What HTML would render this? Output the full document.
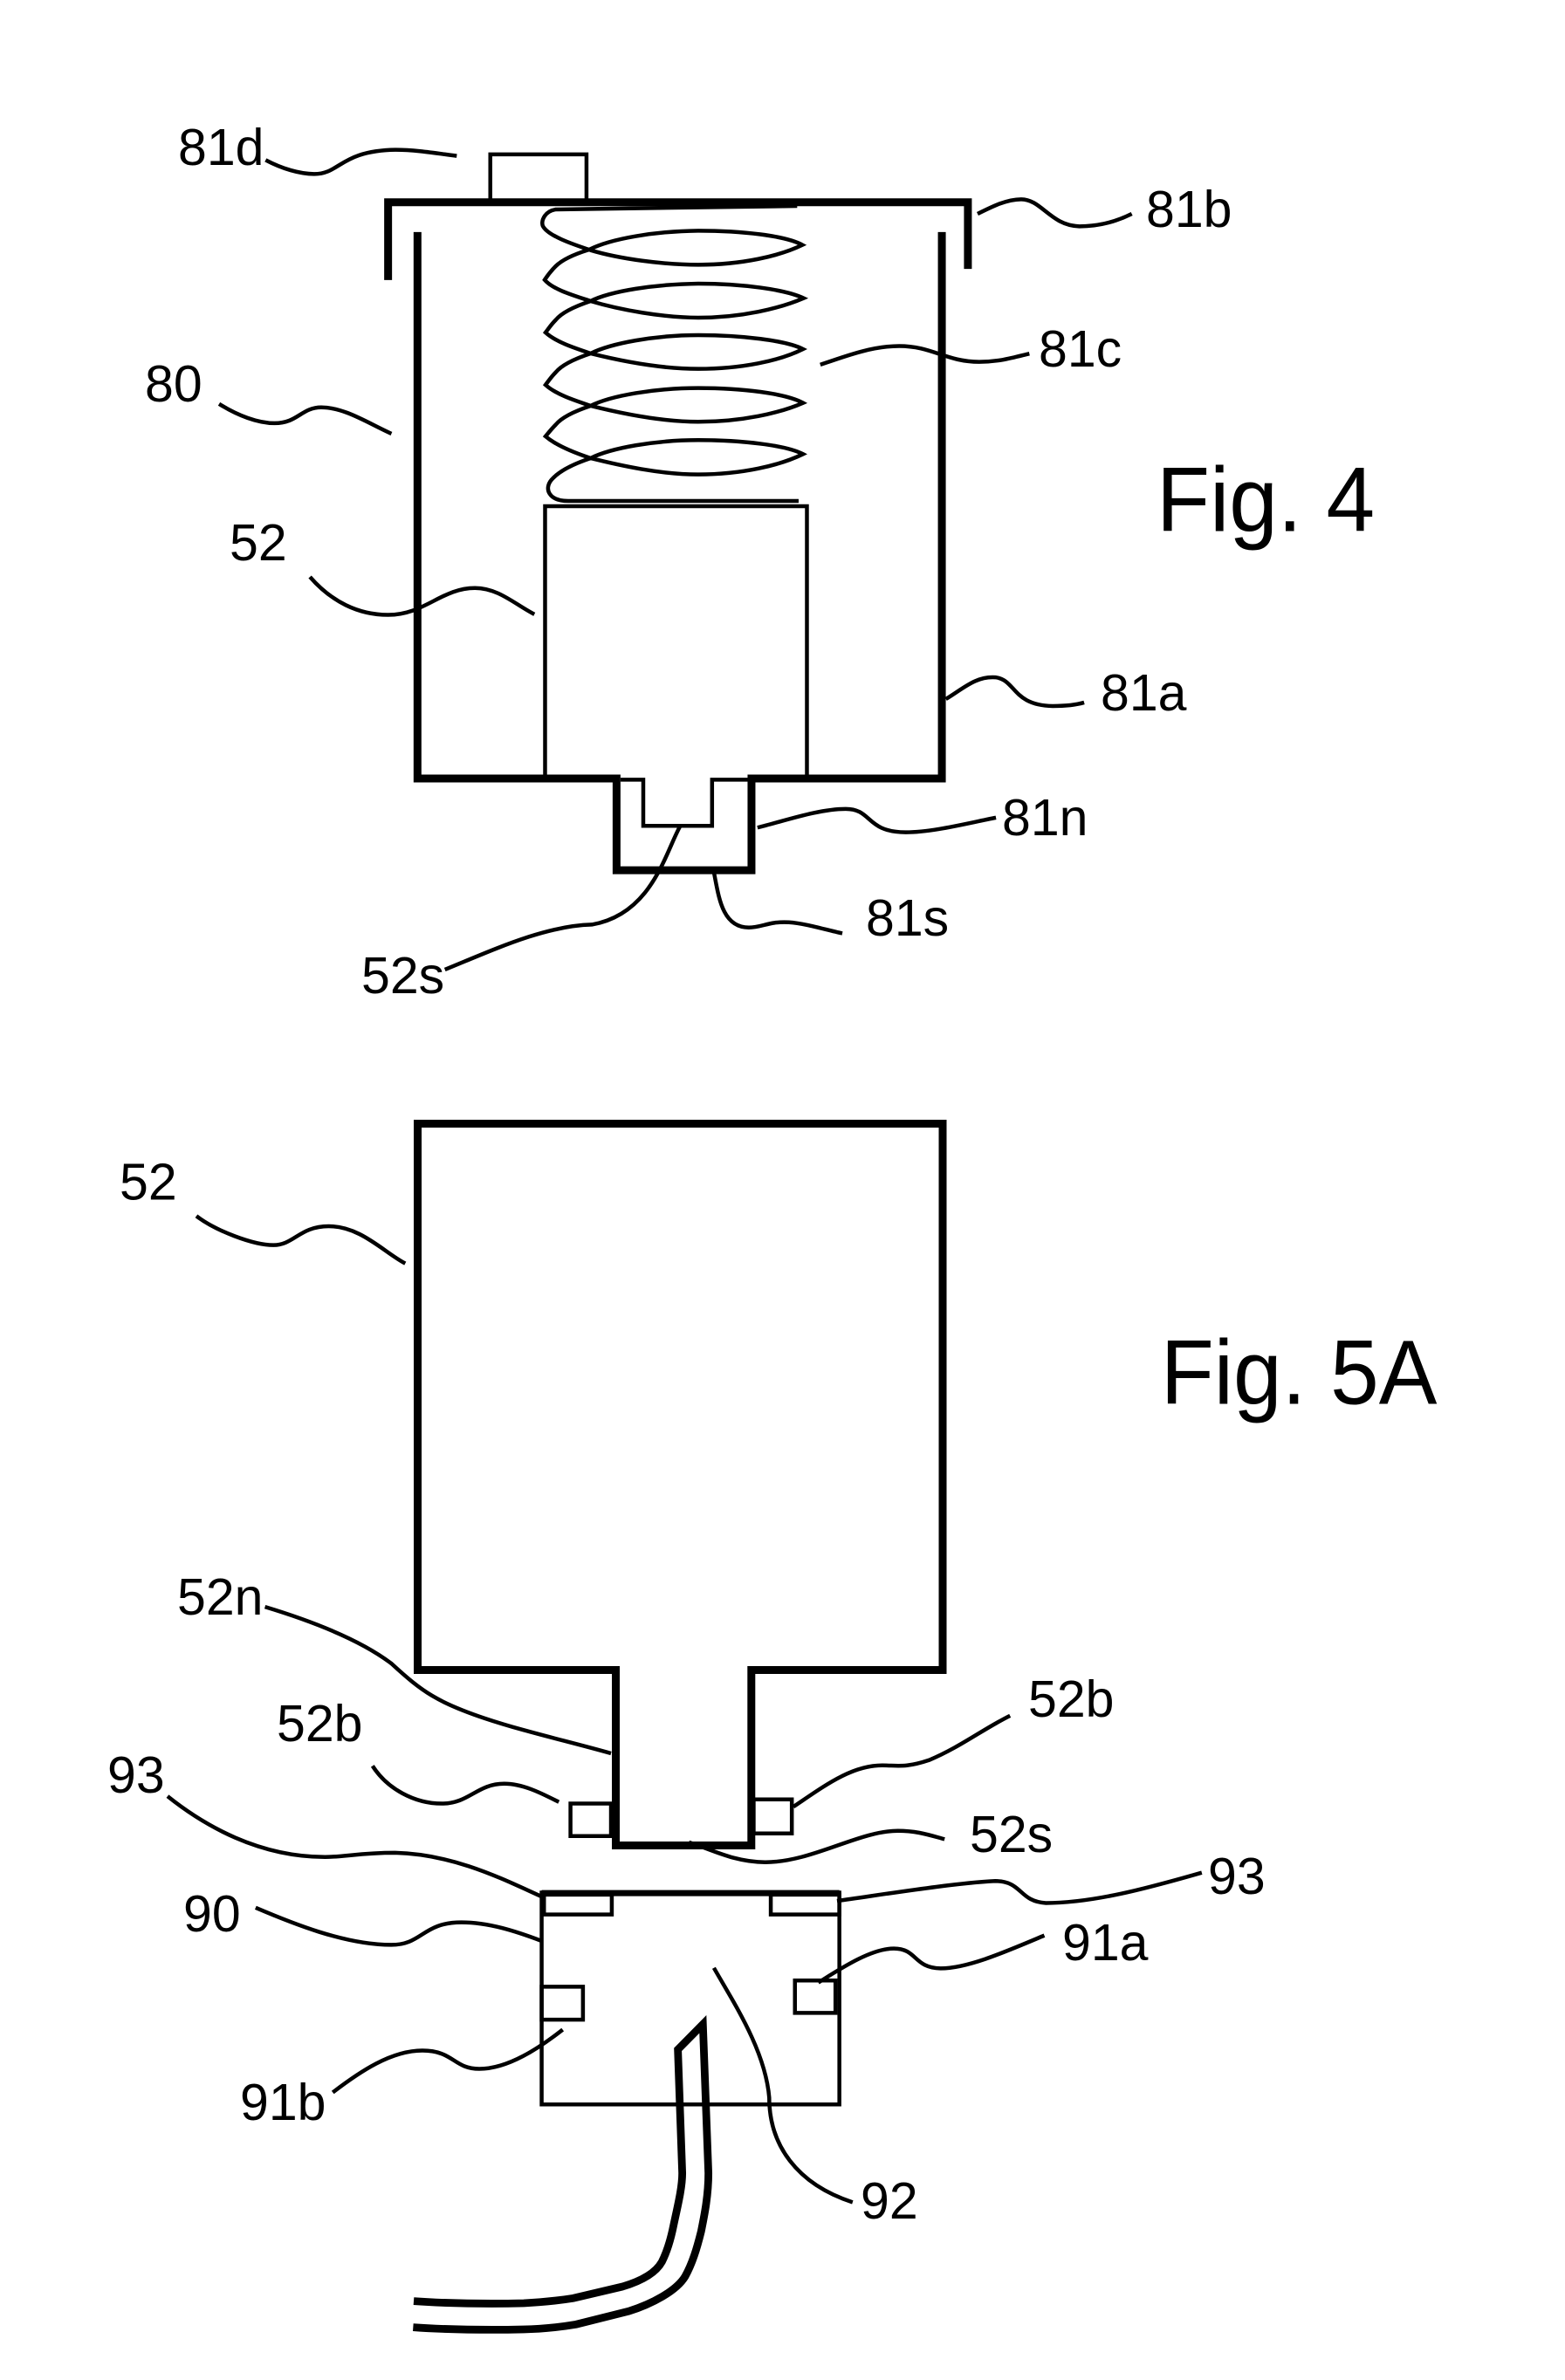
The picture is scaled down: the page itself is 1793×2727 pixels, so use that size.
<!DOCTYPE html>
<html>
<head>
<meta charset="utf-8">
<style>
html,body{margin:0;padding:0;background:#fff;}
svg{display:block;position:absolute;left:0;top:0;}
path,rect{vector-effect:non-scaling-stroke;fill:none;stroke:#000;stroke-linejoin:miter;}
text{font-family:"Liberation Sans",sans-serif;fill:#000;font-size:59px;}
.l{stroke-width:4.5;}
.t{stroke-width:4.5;}
.h{stroke-width:9;}
</style>
</head>
<body>
<svg width="1793" height="2727" viewBox="0 0 1793 2727" xmlns="http://www.w3.org/2000/svg">
<rect x="0" y="0" width="1793" height="2727" style="fill:#fff;stroke:none"/>

<!-- Fig 4 -->
<g transform="translate(150,130) scale(.7653,.6696)">
  <path class="h" d="M385,285 V152 H1253 V266"/>
  <path class="h" d="M429,203 V1138 H727 V1295 H929 V1138 H1214 V203"/>
  <path class="t" d="M538,148 V70 H682 V148"/>
  <path class="t" d="M620,1138 V672 H1012 V1138"/>
  <path class="t" d="M733,1140 H767 V1219 H870 V1140 H925"/>
  <path class="l" d="M1032,430 C1070,415 1110,398 1150,398 C1200,398 1220,425 1270,425 C1300,425 1320,418 1345,411"/>
  <path class="l" d="M132,497 C160,517 190,530 215,530 C250,530 255,503 285,503 C320,503 355,530 390,548"/>
  <path class="l" d="M268,793 C300,835 340,858 385,858 C440,858 465,812 515,812 C550,812 575,840 604,857"/>
  <path class="l" d="M1220,1002 C1245,985 1265,962 1295,965 C1325,970 1320,1013 1380,1014 C1400,1014 1415,1012 1427,1008"/>
  <path class="l" d="M938,1222 C980,1210 1030,1190 1070,1190 C1110,1190 1100,1230 1160,1230 C1200,1230 1250,1215 1295,1205"/>
  <path class="l" d="M873,1300 C880,1340 885,1393 925,1393 C945,1393 955,1382 985,1384 C1010,1386 1040,1397 1065,1403"/>
  <path class="l" d="M822,1220 C800,1265 780,1370 690,1388 C620,1390 545,1430 470,1465"/>
</g>
<!-- Spring -->
<g transform="translate(600,210) scale(.3333)">
  <path class="t" d="M940,78 L110,90 C75,95 60,125 65,145 C80,180 170,210 230,230 C330,260 480,280 600,280 C750,280 880,250 958,212 C900,180 750,163 600,163 C450,165 300,190 225,228 C170,245 130,265 110,285 C95,300 80,320 72,332 C100,365 170,385 230,405 C330,435 480,462 600,462 C750,462 880,430 962,395 C900,365 750,345 600,345 C450,347 300,370 230,405 C170,425 130,445 110,470 C95,485 85,500 75,513 C110,545 170,565 230,585 C330,610 470,638 600,638 C750,638 880,610 960,570 C900,540 750,522 600,522 C450,522 300,550 230,585 C170,605 130,625 110,650 C95,665 85,680 75,693 C110,725 170,745 230,765 C330,790 470,820 600,820 C750,820 880,790 960,755 C900,722 750,704 600,704 C450,704 300,730 230,765 C170,785 130,805 110,830 C95,845 85,858 75,870 C110,900 170,925 230,945 C330,970 470,1001 600,1001 C750,1001 880,970 960,931 C900,900 750,883 600,883 C450,883 300,910 230,945 C170,965 120,990 95,1020 C70,1050 85,1092 153,1092 L945,1092"/>
</g>
<g transform="translate(200,130) scale(.3333)">
  <path class="l" d="M313,160 C370,190 430,208 480,208 C570,208 570,128 760,125 C830,125 900,137 970,146"/>
</g>
<g transform="translate(1120,200) scale(.3333)">
  <path class="l" d="M0,135 C50,110 100,85 150,85 C220,85 250,175 350,178 C420,178 480,160 530,135"/>
</g>

<text x="204" y="189">81d</text>
<text x="1313" y="260">81b</text>
<text x="1190" y="420">81c</text>
<text x="166" y="460">80</text>
<text x="263" y="642">52</text>
<text x="1261" y="814">81a</text>
<text x="1148" y="957">81n</text>
<text x="992" y="1072">81s</text>
<text x="414" y="1138">52s</text>
<text transform="translate(1325,608.7) scale(1,1.047)" x="0" y="0" style="font-size:100px">Fig. 4</text>

<!-- Fig 5A -->
<path class="h" d="M478.5,1287.5 H1080 V1913.5 H860.8 V2114.5 H705.5 V1913.5 H478.5 Z"/>
<g transform="translate(130,1260) scale(.3333)">
  <path class="l" d="M285,400 C350,450 480,500 550,500 C620,500 640,435 740,435 C850,435 930,525 1003,563"/>
</g>
<g transform="translate(460,2300) scale(.3333)">
  <path style="stroke-width:8.8" d="M42,1010 C150,1018 300,1020 420,1017 C480,1014 540,1008 590,1000 L760,960 C810,945 870,920 895,875 C910,845 925,800 935,750 C950,680 965,620 965,570 L950,145 L1036,58 L1055,570 C1055,650 1040,720 1030,770 C1015,830 1000,880 975,925 C945,975 860,1020 780,1045 L600,1090 C540,1100 480,1106 420,1107 C300,1110 150,1108 40,1100"/>
</g>
<g transform="translate(100,1780) scale(.8929,.5995)">
  <rect class="t" x="620" y="478" width="52" height="62"/>
  <rect class="t" x="855" y="470" width="49" height="65"/>
  <rect class="t" x="583" y="648" width="382" height="405"/>
  <path style="stroke-width:7" d="M583,649 H965"/>
  <rect class="t" x="586" y="652" width="87" height="38"/>
  <rect class="t" x="877" y="652" width="88" height="38"/>
  <rect class="t" x="583" y="828" width="53" height="63"/>
  <rect class="t" x="908" y="816" width="52" height="62"/>
  <path class="l" d="M228,102 C290,130 350,165 390,210 C430,265 450,285 510,315 C560,340 620,360 672,382"/>
  <path class="l" d="M366,406 C385,450 420,478 455,478 C490,478 500,440 535,440 C560,440 585,460 605,475"/>
  <path class="l" d="M906,484 C945,445 980,405 1020,405 C1040,405 1050,410 1080,395 C1120,370 1150,335 1184,310"/>
  <path class="l" d="M772,552 C800,565 830,590 870,590 C930,590 990,530 1040,530 C1065,530 1080,538 1100,546"/>
  <path class="l" d="M103,464 C150,520 220,580 305,580 C330,580 350,572 395,572 C470,575 530,620 582,655"/>
  <path class="l" d="M962,664 C1020,652 1110,630 1165,626 C1200,626 1195,665 1230,668 C1290,668 1360,640 1430,610"/>
  <path class="l" d="M216,677 C260,705 330,748 390,748 C430,748 430,705 480,705 C515,705 550,722 582,740"/>
  <path class="l" d="M938,820 C965,795 1005,755 1035,755 C1065,755 1060,792 1095,793 C1130,793 1180,760 1228,730"/>
  <path class="l" d="M610,910 C580,945 540,985 503,985 C470,985 470,950 430,950 C390,950 350,990 315,1030"/>
  <path class="l" d="M804,792 C830,860 870,950 875,1040 C875,1130 910,1205 982,1240"/>
</g>

<text x="137" y="1374.5">52</text>
<text x="203" y="1850">52n</text>
<text x="1178" y="1967">52b</text>
<text x="317" y="1995">52b</text>
<text x="123" y="2054">93</text>
<text x="1111" y="2122">52s</text>
<text x="1384" y="2170">93</text>
<text x="210" y="2213">90</text>
<text x="1217" y="2246">91a</text>
<text x="275" y="2429">91b</text>
<text x="986" y="2542">92</text>
<text transform="translate(1329.7,1608.7) scale(1,1.047)" x="0" y="0" style="font-size:100px">Fig. 5A</text>
</svg>
</body>
</html>
